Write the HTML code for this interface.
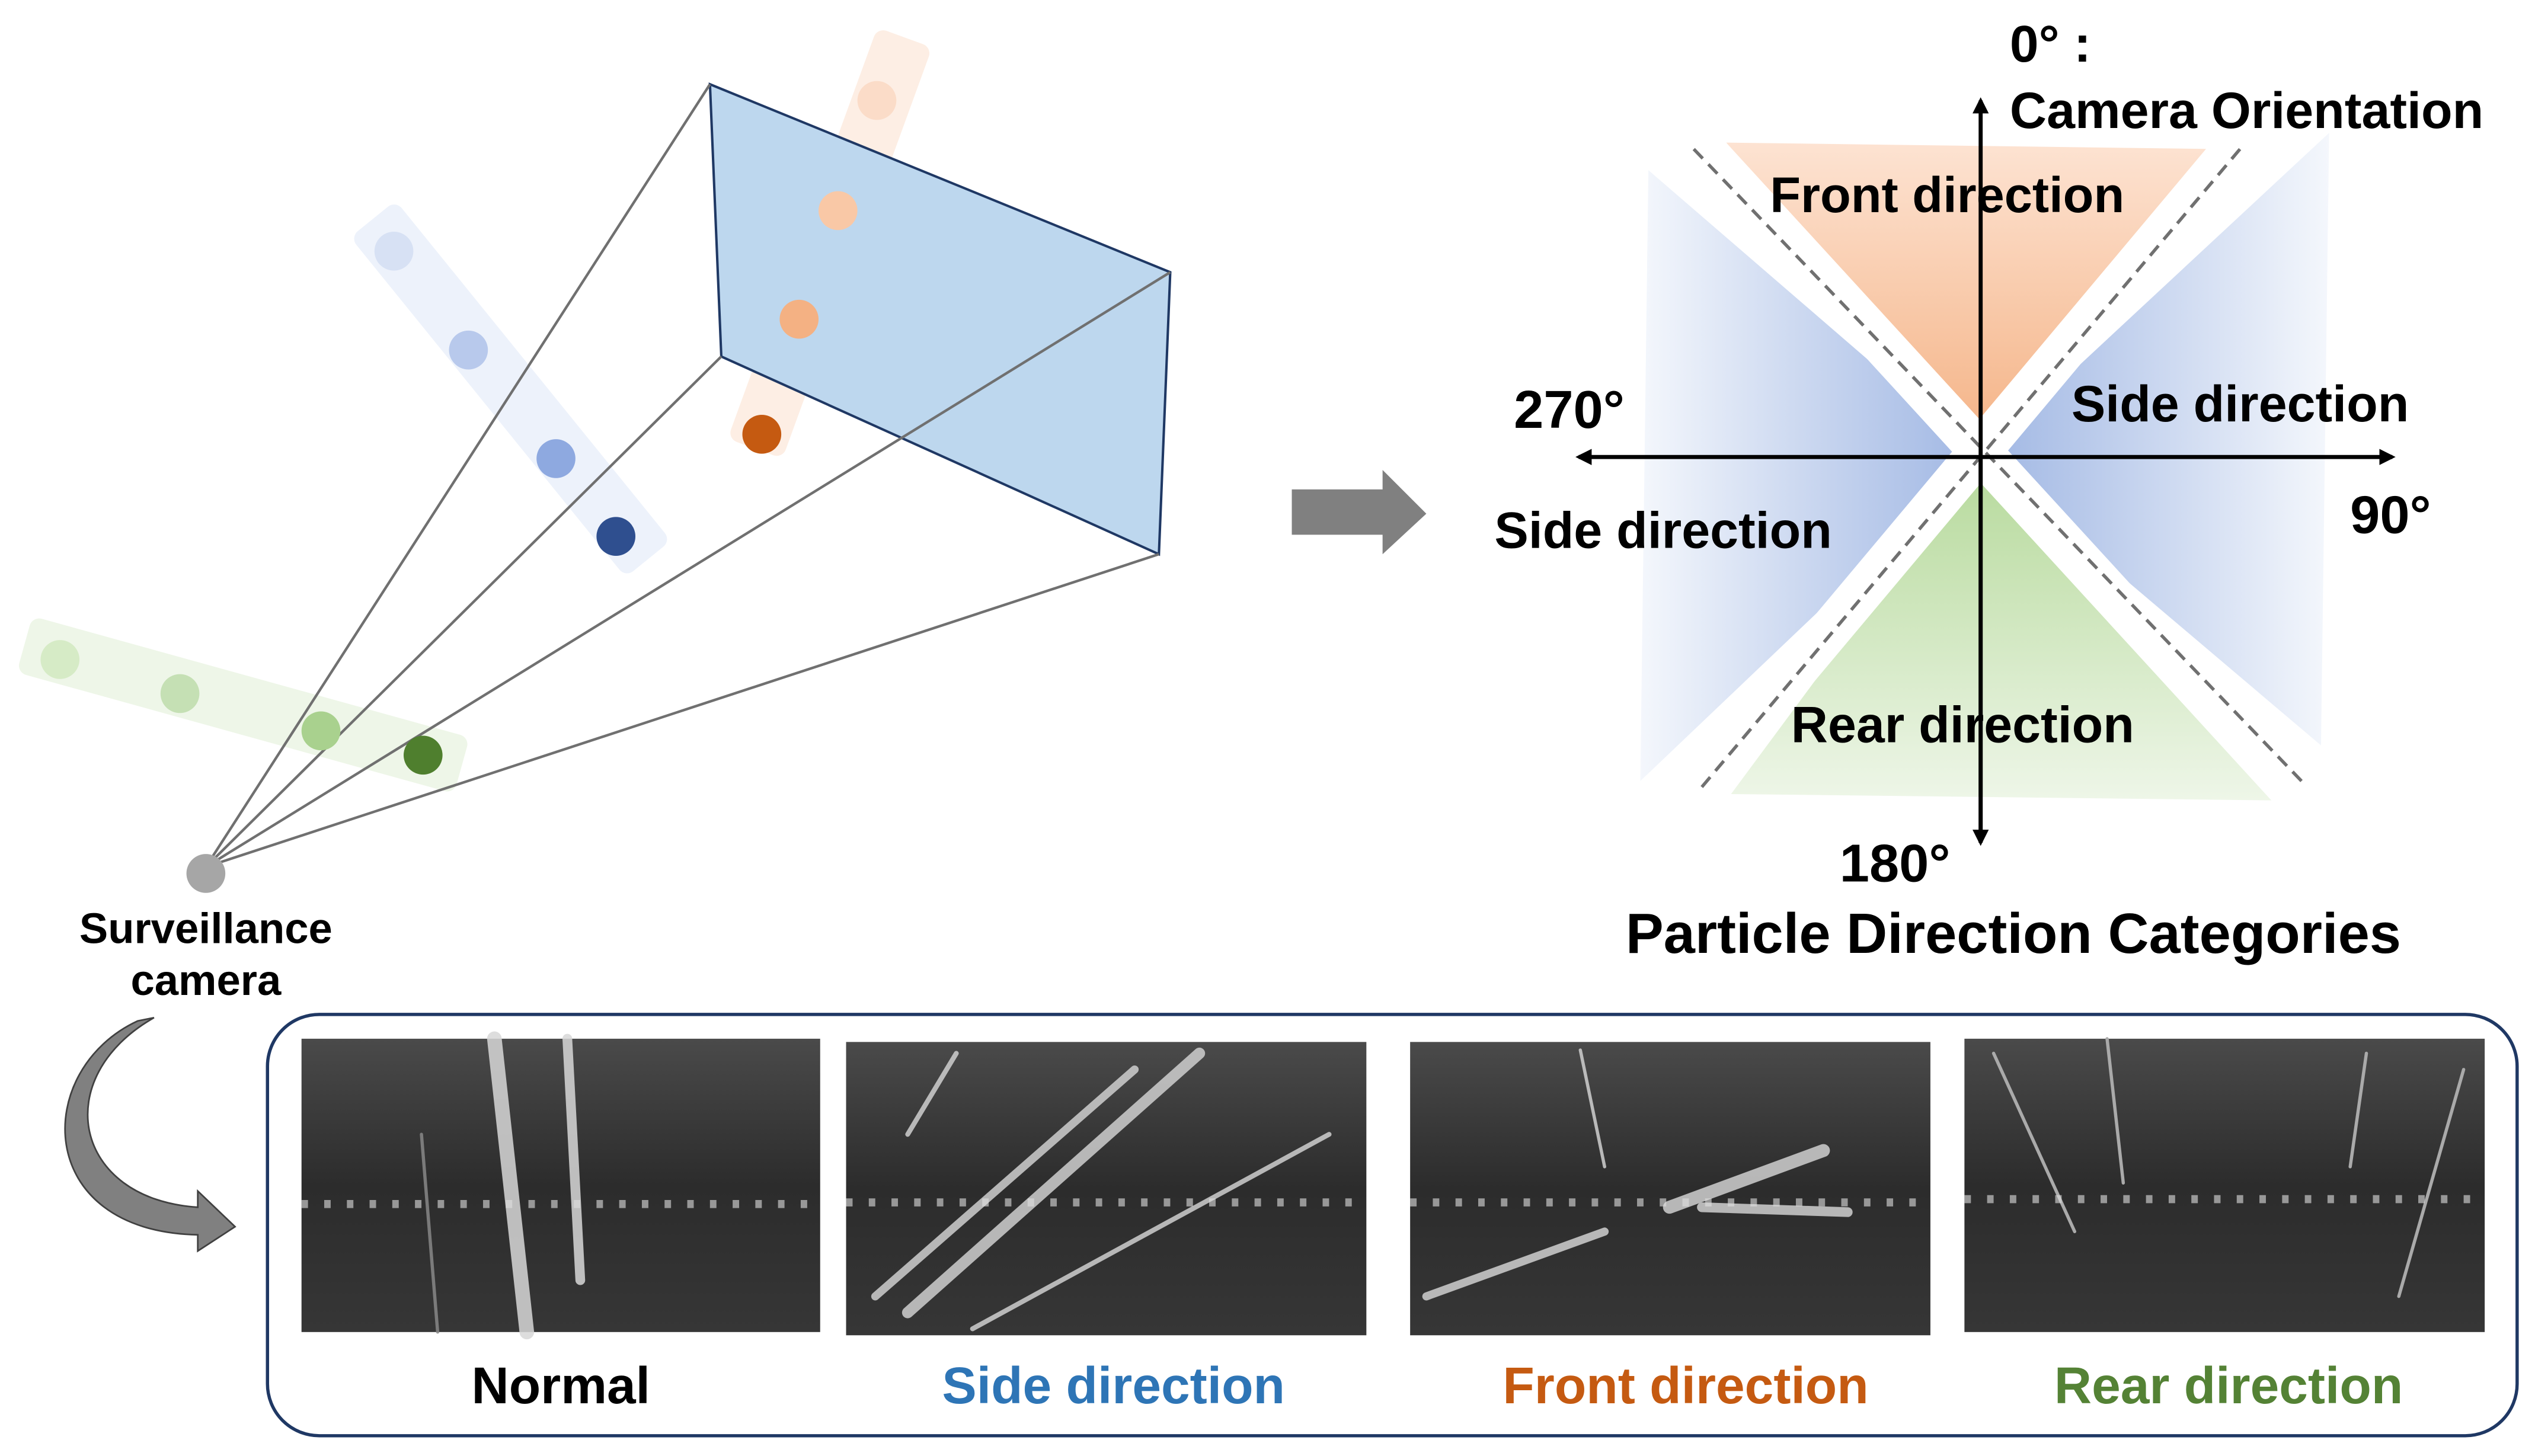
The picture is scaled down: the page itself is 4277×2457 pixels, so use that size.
<!DOCTYPE html>
<html><head><meta charset="utf-8"><style>
html,body{margin:0;padding:0;background:#fff;}
svg{display:block;}
text{font-family:"Liberation Sans","DejaVu Sans",sans-serif;font-weight:bold;}
</style></head><body>
<svg width="4277" height="2457" viewBox="0 0 1564 898.5" xmlns="http://www.w3.org/2000/svg">
<defs>
<linearGradient id="gOr" x1="0" y1="0" x2="0" y2="1"><stop offset="0" stop-color="#fde3d2"/><stop offset="1" stop-color="#f4b183"/></linearGradient>
<linearGradient id="gGr" x1="0" y1="0" x2="0" y2="1"><stop offset="0" stop-color="#b5d99a"/><stop offset="1" stop-color="#eef6e8"/></linearGradient>
<linearGradient id="gBl" x1="0" y1="0" x2="1" y2="0"><stop offset="0" stop-color="#f4f7fc"/><stop offset="1" stop-color="#9fb6e3"/></linearGradient>
<linearGradient id="gBr" x1="1" y1="0" x2="0" y2="0"><stop offset="0" stop-color="#f4f7fc"/><stop offset="1" stop-color="#9fb6e3"/></linearGradient>
<linearGradient id="ph" x1="0" y1="0" x2="0" y2="1"><stop offset="0" stop-color="#4a4a4a"/><stop offset="0.5" stop-color="#2c2c2c"/><stop offset="1" stop-color="#363636"/></linearGradient>
<marker id="ah" markerWidth="10" markerHeight="10" refX="8" refY="5" orient="auto" markerUnits="userSpaceOnUse"><path d="M0,0 L10,5 L0,10 z" fill="#000"/></marker>
</defs>

<g transform="rotate(51 315 240)"><rect x="180" y="222" width="270" height="36" rx="6" fill="#edf2fb"/></g>
<g transform="rotate(-70 512 150)"><rect x="377" y="132" width="270" height="36" rx="6" fill="#fdeee4"/></g>
<g transform="rotate(15.5 150 435)"><rect x="10" y="417" width="280" height="36" rx="6" fill="#eef6e8"/></g>

<polygon points="438,52 722,168 715,342 445,220" fill="#bdd7ee" stroke="#1f3864" stroke-width="1.5"/>
<g stroke="#707070" stroke-width="1.6" fill="none">
<line x1="127" y1="535" x2="438" y2="52"/>
<line x1="127" y1="535" x2="445" y2="220"/>
<line x1="127" y1="535" x2="722" y2="168"/>
<line x1="127" y1="535" x2="715" y2="342"/>
</g>
<circle cx="243" cy="155" r="12" fill="#d7e1f4"/><circle cx="289" cy="216" r="12" fill="#b8c9ec"/><circle cx="343" cy="283" r="12" fill="#8ea9e0"/><circle cx="380" cy="331" r="12" fill="#2f4f8f"/>
<circle cx="541" cy="62" r="12" fill="#fbdcc8"/><circle cx="517" cy="130" r="12" fill="#f9c8a6"/><circle cx="493" cy="197" r="12" fill="#f4b183"/><circle cx="470" cy="268" r="12" fill="#c55a11"/>
<circle cx="37" cy="407" r="12" fill="#d6ebc6"/><circle cx="111" cy="428" r="12" fill="#c5e0b4"/><circle cx="198" cy="451" r="12" fill="#a9d18e"/><circle cx="261" cy="466" r="12" fill="#4f7f2e"/>
<circle cx="127" cy="539" r="12" fill="#a6a6a6"/>
<text x="127" y="582" font-size="26.5" text-anchor="middle">Surveillance</text>
<text x="127" y="614" font-size="26.5" text-anchor="middle">camera</text>

<polygon points="797,302 853,302 853,290 880,317 853,342 853,330 797,330" fill="#808080"/>

<path d="M95,628 C30,665 45,740 122,745 L122,735 L145,757 L122,772 L122,762 C20,760 20,660 85,630 Z" fill="#808080" stroke="#404040" stroke-width="1"/>

<polygon points="1065,88 1370,92 1222,282" fill="url(#gOr)"/>
<polygon points="1222,282 1068,490 1410,494" fill="url(#gGr)"/>
<polygon points="1017,105 1012,482 1222,282" fill="url(#gBl)"/>
<polygon points="1437,82 1432,460 1222,282" fill="url(#gBr)"/>
<g stroke="#fff" stroke-width="26">
<line x1="1040" y1="80" x2="1420" y2="495"/>
<line x1="1388" y1="80" x2="1040" y2="495"/>
</g>
<g stroke="#707070" stroke-width="2" stroke-dasharray="8,5">
<line x1="1045" y1="92" x2="1420" y2="482"/>
<line x1="1382" y1="92" x2="1048" y2="488"/>
</g>
<g stroke="#000" stroke-width="2.5">
<line x1="1222" y1="520" x2="1222" y2="62" marker-end="url(#ah)"/>
<line x1="1222" y1="282" x2="1222" y2="520" marker-end="url(#ah)"/>
<line x1="1222" y1="282" x2="974" y2="282" marker-end="url(#ah)"/>
<line x1="1222" y1="282" x2="1476" y2="282" marker-end="url(#ah)"/>
</g>
<text x="1240" y="38" font-size="32">0° :</text>
<text x="1240" y="79" font-size="31.5">Camera Orientation</text>
<text x="1092" y="131" font-size="31">Front direction</text>
<text x="1278" y="260" font-size="31.5">Side direction</text>
<text x="934" y="264" font-size="33">270°</text>
<text x="922" y="338" font-size="31.5">Side direction</text>
<text x="1450" y="329" font-size="33">90°</text>
<text x="1105" y="458" font-size="31.5">Rear direction</text>
<text x="1135" y="544" font-size="33">180°</text>
<text x="1003" y="588" font-size="35">Particle Direction Categories</text>

<rect x="165" y="626" width="1388" height="260" rx="32" fill="#fff" stroke="#1f3864" stroke-width="2"/>
<g>
<rect x="186" y="641" width="320" height="181" fill="url(#ph)"/>
<g stroke="#d8d8d8" stroke-linecap="round" opacity="0.85"><line x1="305" y1="641" x2="325" y2="822" stroke-width="9"/><line x1="350" y1="641" x2="358" y2="790" stroke-width="6"/><line x1="260" y1="700" x2="270" y2="822" stroke-width="2" stroke="#888"/></g>
<rect x="522" y="643" width="321" height="181" fill="url(#ph)"/>
<g stroke="#cfcfcf" stroke-linecap="round" opacity="0.85"><line x1="740" y1="650" x2="560" y2="810" stroke-width="7"/><line x1="700" y1="660" x2="540" y2="800" stroke-width="5"/><line x1="820" y1="700" x2="600" y2="820" stroke-width="3"/><line x1="590" y1="650" x2="560" y2="700" stroke-width="3"/></g>
<rect x="870" y="643" width="321" height="181" fill="url(#ph)"/>
<g stroke="#d0d0d0" stroke-linecap="round" opacity="0.85"><line x1="1030" y1="745" x2="1125" y2="710" stroke-width="8"/><line x1="1050" y1="745" x2="1140" y2="748" stroke-width="6"/><line x1="880" y1="800" x2="990" y2="760" stroke-width="5"/><line x1="975" y1="648" x2="990" y2="720" stroke-width="2"/></g>
<rect x="1212" y="641" width="321" height="181" fill="url(#ph)"/>
<g stroke="#aaa" stroke-linecap="round" stroke-width="2"><line x1="1300" y1="641" x2="1310" y2="730"/><line x1="1460" y1="650" x2="1450" y2="720"/><line x1="1230" y1="650" x2="1280" y2="760"/><line x1="1520" y1="660" x2="1480" y2="800"/></g>
<g stroke="#e0e0e0" stroke-width="5" stroke-dasharray="4,10" opacity="0.6"><line x1="186" y1="743" x2="506" y2="743"/><line x1="522" y1="742" x2="843" y2="742"/><line x1="870" y1="742" x2="1191" y2="742"/><line x1="1212" y1="740" x2="1533" y2="740"/></g>
</g>
<text x="346" y="866" font-size="32" text-anchor="middle" fill="#000">Normal</text>
<text x="687" y="866" font-size="32" text-anchor="middle" fill="#2e75b6">Side direction</text>
<text x="1040" y="866" font-size="32" text-anchor="middle" fill="#c55a11">Front direction</text>
<text x="1375" y="866" font-size="32" text-anchor="middle" fill="#548235">Rear direction</text>
</svg>
</body></html>
